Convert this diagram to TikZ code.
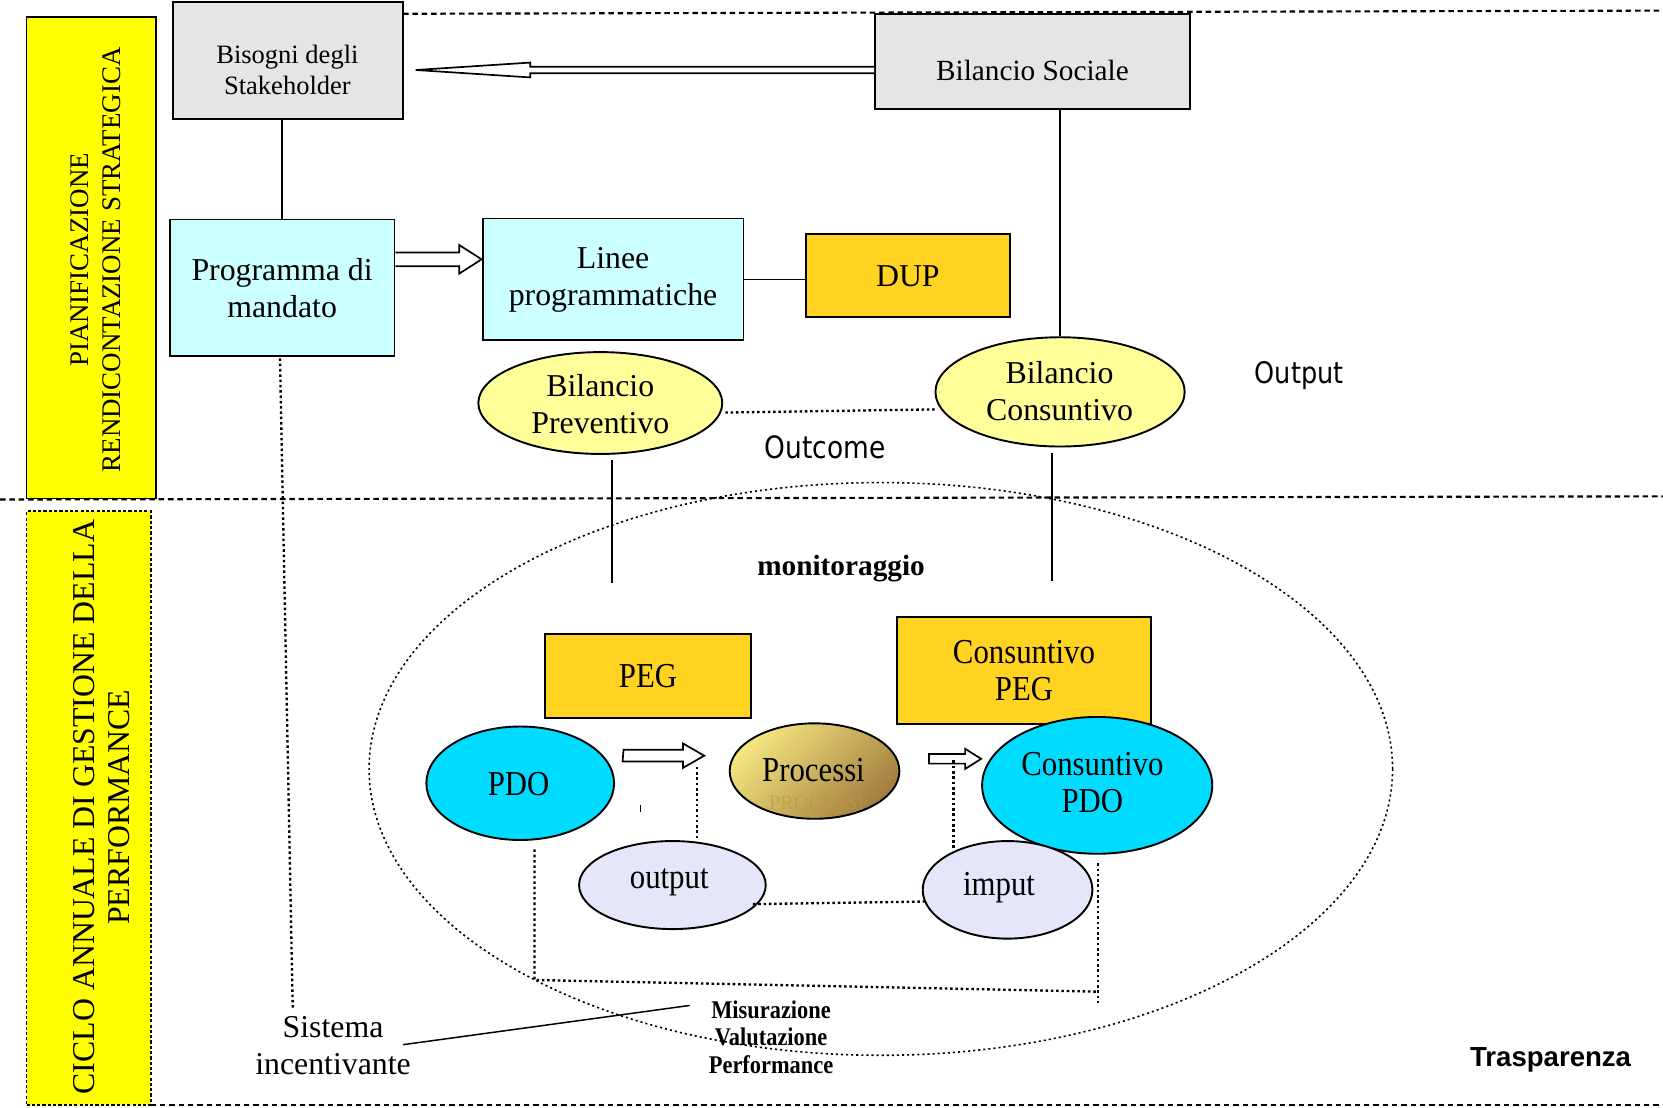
\documentclass[tikz,border=0pt]{standalone}
\usepackage{fontspec}
\setmainfont{Liberation Serif}
\newfontfamily\condf[FakeStretch=0.88]{Liberation Serif}
\newfontfamily\outcomef[FakeStretch=0.86]{DejaVu Sans}
\newfontfamily\arialf{Liberation Sans}
\usetikzlibrary{shapes.geometric,calc}
\definecolor{ybar}{HTML}{FFFF00}
\definecolor{grayb}{HTML}{E5E5E5}
\definecolor{cyanl}{HTML}{CCFFFF}
\definecolor{goldb}{HTML}{FFD320}
\definecolor{yell}{HTML}{FFFF99}
\definecolor{cyanb}{HTML}{00DCFF}
\definecolor{lav}{HTML}{E6E6FA}
\definecolor{procA}{HTML}{F4E680}
\definecolor{procB}{HTML}{A27E3E}
\tikzset{
  rbox/.style={draw, line width=0.9pt, inner sep=0pt},
  ellb/.style={draw, ellipse, line width=0.9pt, inner sep=0pt},
  tA/.style={font=\fontsize{15}{17.5}\selectfont, align=center, inner sep=0pt},
  tC/.style={font=\condf\fontsize{16.5}{17.5}\selectfont, align=center, inner sep=0pt},
  gline/.style={line width=0.7pt},
  dotline/.style={line width=1.1pt, dash pattern=on 1.2pt off 1.3pt},
  frameline/.style={line width=1pt, dash pattern=on 2.6pt off 1.8pt},
  hollow/.style={draw, fill=white, line width=0.8pt, line join=miter},
}
\begin{document}
\begin{tikzpicture}[x=0.5pt,y=-0.5pt]
\useasboundingbox (0,0) rectangle (1568,1044);
% frame lines
\draw[frameline] (380,13) -- (1568,10);
\draw[frameline] (0,471) -- (1568,468);
\draw[frameline] (142,1042) -- (1568,1042);

% side bars
\node[rbox, fill=ybar, minimum width=61pt, minimum height=227pt] (yel1) at (86,243) {};
\node[rotate=90, align=center, font=\fontsize{12.7}{15}\selectfont] (yel1t) at (90,245) {PIANIFICAZIONE\\RENDICONTAZIONE STRATEGICA};
\node[draw, fill=ybar, line width=0.9pt, dash pattern=on 1.5pt off 1pt, minimum width=58.5pt, minimum height=280pt] (yel2) at (83.5,762) {};
\node[rotate=90, align=center, font=\fontsize{15}{16.5}\selectfont] (yel2t) at (95.5,761) {CICLO ANNUALE DI GESTIONE DELLA\\PERFORMANCE};

% top boxes
\node[rbox, fill=grayb, minimum width=108.5pt, minimum height=55pt] (bis) at (271.5,57) {};
\node[align=center, font=\fontsize{12.5}{14.5}\selectfont] (bist) at (271,66) {Bisogni degli\\Stakeholder};
\node[rbox, fill=grayb, minimum width=148.5pt, minimum height=45pt] (bs) at (973.5,58) {};
\node[font=\fontsize{13.8}{16}\selectfont] (bst) at (973.5,66) {Bilancio Sociale};

\node[rbox, fill=cyanl, minimum width=106pt, minimum height=64.5pt, tA] (prog) at (266,271.5) {Programma di\\mandato};
\node[rbox, fill=cyanl, minimum width=123pt, minimum height=57.5pt, tA] (linee) at (578,263.5) {Linee\\programmatiche};
\node[rbox, fill=goldb, minimum width=96pt, minimum height=39pt, tA] (dup) at (856,260) {DUP};

% bilanci ellipses
\node[ellb, fill=yell, minimum width=115pt, minimum height=48pt] (prev) at (566,380) {};
\node[tA] (prevt) at (566,381) {Bilancio\\Preventivo};
\node[ellb, fill=yell, minimum width=117.5pt, minimum height=51.5pt] (cons) at (999.5,369.5) {};
\node[tA] (const) at (999,369) {Bilancio\\Consuntivo};

\node[font=\outcomef\fontsize{14.5}{16}\selectfont] (outc) at (778,422) {Outcome};
\node[font=\outcomef\fontsize{14}{16}\selectfont] (outl) at (1225,354) {Output};
\node[font=\arialf\bfseries\fontsize{13}{15}\selectfont] (trasp) at (1462,999) {Trasparenza};

% connectors top
\draw[gline] (prog.north |- bis.south) -- (prog.north);
\draw[gline] (cons.north |- bs.south) -- (cons.north);
\draw[gline] (linee.east) -- (linee.east -| dup.west);
\draw[dotline] ($(prev.east)+(2,9)$) -- ($(cons.west)+(1,16.5)$);
\coordinate (pv1) at (577,550);
\coordinate (cv1) at (992,548);
\draw[gline] ($(prev.south)+(11,5)$) -- (pv1);
\draw[gline] ($(cons.south)+(-7.5,5.5)$) -- (cv1);

% hollow arrows
\draw[hollow] (bs.west |- 0,63) -- (500,63) -- (500,59) -- (392,66) -- (500,73) -- (500,69) -- (bs.west |- 0,69);
\draw[hollow] (prog.east |- 0,238) -- (433,238) -- (433,231) -- (linee.west |- 0,244.5) -- (433,258) -- (433,251) -- (prog.east |- 0,251);

% big monitoring ellipse
\node[draw, ellipse, line width=0.75pt, dash pattern=on 1pt off 1.4pt, minimum width=482.5pt, minimum height=270pt, inner sep=0pt] (big) at (830.5,725) {};
\node[font=\bfseries\fontsize{13.8}{16}\selectfont] (monit) at (793,536) {monitoraggio};

% lower nodes
\node[rbox, fill=goldb, minimum width=97pt, minimum height=39.5pt, tC] (peg) at (611,637.5) {PEG};
\node[rbox, fill=goldb, minimum width=119.5pt, minimum height=50.5pt, tC] (cpeg) at (965.5,632.5) {Consuntivo\\PEG};
\node[ellb, fill=cyanb, minimum width=88.5pt, minimum height=53.5pt] (pdo) at (490.5,738.5) {};
\node[tC] (pdot) at (489,739) {PDO};
\node[ellb, top color=procA, bottom color=procB, shading angle=45, minimum width=80pt, minimum height=45pt] (proc) at (768,727) {};
\node[font=\fontsize{9.6}{10}\selectfont, text=procB!70!goldb, opacity=0.6] (procw) at (770,757) {PROCESSI};
\node[tC] (proct) at (767,726) {Processi};
\node[ellb, fill=cyanb, minimum width=108.5pt, minimum height=64.5pt] (cpdo) at (1034.5,740.5) {};
\node[tC] (cpdot) at (1030,737.5) {Consuntivo\\PDO};
\node[ellb, fill=lav, minimum width=88pt, minimum height=41.5pt] (outp) at (634,834.5) {};
\node[tC] (outpt) at (631,832) {output};
\node[ellb, fill=lav, minimum width=80pt, minimum height=46pt] (imp) at (950,839) {};
\node[tC] (impt) at (942,837) {imput};

% lower hollow arrows
\draw[hollow] (pdo.east |- 0,707) ++(8,0) -- (644,707) -- (644,701) -- (664,712.5) -- (644,724) -- (644,718) -- (587,718) -- cycle;
\draw[hollow] (876,711) -- (910,711) -- (910,706) -- (cpdo.west |- 0,715.5) -- (910,725) -- (910,720) -- (876,720) -- cycle;
\draw[dotline] (657,723) -- (outp.north -| 657,0);
\draw[dotline] (899,717) -- (899,801);
\draw[gline] (604,759) -- (604,766);

% lower dotted connectors
\draw[dotline] ($(outp.east)+(-13,18)$) -- ($(imp.west)+(3,11)$);
\draw[dotline] ($(pdo.south)+(13.5,8)$) -- (504,924) -- (1035,935);
\draw[dotline] ($(cpdo.south)+(0.5,8)$) -- (1035,946);

% sistema incentivante & misurazione
\node[align=center, font=\fontsize{15}{17.5}\selectfont] (sist) at (314,985.5) {Sistema\\incentivante};
\node[align=center, font=\condf\bfseries\fontsize{12}{12.8}\selectfont] (mis) at (727,978) {Misurazione\\Valutazione\\Performance};
\coordinate (sisttop) at (276,950);
\draw[dotline] ($(prog.south)+(-2,1)$) -- (sisttop);
\draw[gline] (380,985) -- ($(mis.west)+(-11,-30)$);
\end{tikzpicture}
\end{document}
